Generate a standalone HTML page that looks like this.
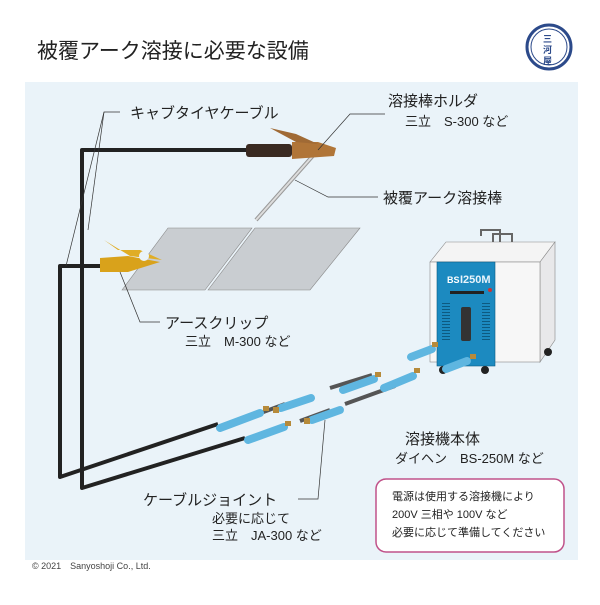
<!DOCTYPE html>
<html><head><meta charset="utf-8"><style>
body{margin:0;width:600px;height:600px;background:#fff;overflow:hidden;font-family:"Liberation Sans","Noto Sans CJK JP",sans-serif;}
</style></head><body>
<svg width="600" height="600" viewBox="0 0 600 600" xmlns="http://www.w3.org/2000/svg" font-family="Liberation Sans, Noto Sans CJK JP, sans-serif">
<rect x="25" y="82" width="553" height="478" fill="#eaf3f9"/>
<text x="37" y="58" font-size="21" fill="#222">被覆アーク溶接に必要な設備</text>
<circle cx="549" cy="47" r="22" fill="none" stroke="#2c4a8a" stroke-width="3"/>
<circle cx="549" cy="47" r="18" fill="none" stroke="#2c4a8a" stroke-width="1"/>
<text x="543" y="42" font-size="9" font-weight="bold" fill="#2c4a8a">三</text>
<text x="543" y="53" font-size="9" font-weight="bold" fill="#2c4a8a">河</text>
<text x="543" y="64" font-size="9" font-weight="bold" fill="#2c4a8a">屋</text>
<!-- plates -->
<polygon points="122,290 168,228 252,228 205,290" fill="#c9cdd1" stroke="#888" stroke-width="0.6"/>
<polygon points="208,290 255,228 360,228 310,290" fill="#c9cdd1" stroke="#888" stroke-width="0.6"/>
<!-- rod -->
<line x1="318" y1="150" x2="256" y2="220" stroke="#999" stroke-width="4"/>
<line x1="318" y1="150" x2="256" y2="220" stroke="#ddd" stroke-width="2"/>
<!-- cables -->
<path d="M250,150 L82,150 L82,488 L245,438" fill="none" stroke="#222" stroke-width="4" stroke-linejoin="round"/>
<path d="M100,266 L60,266 L60,477 L218,424" fill="none" stroke="#222" stroke-width="4" stroke-linejoin="round"/>
<!-- holder -->
<rect x="246" y="144" width="46" height="13" rx="3" fill="#3a2a22"/>
<path d="M292,142 L318,142 L336,148 L334,156 L292,159 Z" fill="#b07538"/>
<path d="M270,128 L296,134 L318,144 L296,142 Z" fill="#a06a35"/>
<!-- clip -->
<path d="M100,258 L128,256 L160,262 L128,272 L100,272 Z" fill="#d9a21b"/>
<path d="M104,240 L118,250 L140,250 L162,260 L130,256 Z" fill="#e0ad25"/>
<circle cx="144" cy="256" r="5" fill="#eaf3f9"/>
<!-- machine -->
<polygon points="430,262 446,242 555,242 540,262" fill="#f4f4f4" stroke="#888" stroke-width="0.6"/>
<polygon points="540,262 555,242 555,340 540,362" fill="#e8e8ea" stroke="#888" stroke-width="0.6"/>
<rect x="430" y="262" width="110" height="100" fill="#f7f7f7" stroke="#888" stroke-width="0.6"/>
<rect x="437" y="262" width="58" height="104" fill="#1c8ac0" stroke="#0d5a80" stroke-width="0.6"/>
<text x="447" y="283" font-size="9" font-weight="bold" fill="#fff">BS</text>
<text x="460" y="283" font-size="11" font-weight="bold" fill="#e8f4fb">I250M</text>
<rect x="450" y="291" width="34" height="3" fill="#222"/>
<circle cx="490" cy="290" r="2" fill="#c33"/>
<g stroke="#0d5a80" stroke-width="1"><line x1="446" y1="303" x2="446" y2="340" stroke-dasharray="1 2" stroke-width="8"/><line x1="486" y1="303" x2="486" y2="340" stroke-dasharray="1 2" stroke-width="8"/></g>
<rect x="461" y="307" width="10" height="34" rx="2" fill="#333"/>
<path d="M481,236 L481,230 L500,230 L500,242 M493,242 L493,234 L512,234 L512,242" fill="none" stroke="#666" stroke-width="2"/>
<circle cx="443" cy="370" r="4" fill="#222"/><circle cx="485" cy="370" r="4" fill="#222"/><circle cx="548" cy="352" r="4" fill="#222"/>
<!-- connectors & joint cables -->
<line x1="258" y1="414" x2="285" y2="404" stroke="#555" stroke-width="4"/>
<line x1="330" y1="388" x2="372" y2="375" stroke="#555" stroke-width="4"/>
<line x1="300" y1="421" x2="330" y2="410" stroke="#555" stroke-width="4"/>
<line x1="345" y1="404" x2="395" y2="386" stroke="#555" stroke-width="4"/>
<g stroke="#5fb6e0" stroke-width="8" stroke-linecap="round">
<line x1="220" y1="428" x2="260" y2="413"/>
<line x1="248" y1="440" x2="284" y2="427"/>
<line x1="281" y1="408" x2="311" y2="398"/>
<line x1="312" y1="420" x2="340" y2="410"/>
<line x1="343" y1="390" x2="374" y2="379"/>
<line x1="384" y1="388" x2="413" y2="376"/>
<line x1="411" y1="357" x2="432" y2="349"/>
<line x1="446" y1="369" x2="467" y2="361"/>
</g>
<g fill="#b68a3a"><rect x="263" y="406" width="6" height="5"/><rect x="273" y="407" width="6" height="6"/><rect x="285" y="421" width="6" height="5"/><rect x="304" y="418" width="6" height="6"/><rect x="375" y="372" width="6" height="5"/><rect x="414" y="368" width="6" height="5"/><rect x="432" y="342" width="6" height="5"/><rect x="470" y="354" width="6" height="5"/></g>
<!-- leaders -->
<g fill="none" stroke="#333" stroke-width="0.7">
<path d="M120,112 L104,112 L66,266"/><path d="M104,112 L88,230"/>
<path d="M385,114 L350,114 L318,150"/>
<path d="M378,197 L328,197 L295,180"/>
<path d="M160,322 L140,322 L120,272"/>
<path d="M298,499 L318,499 L325,420"/>
</g>
<g fill="#222" font-size="15">
<text x="130" y="118">キャブタイヤケーブル</text>
<text x="388" y="106">溶接棒ホルダ</text>
<text x="383" y="203">被覆アーク溶接棒</text>
<text x="165" y="328">アースクリップ</text>
<text x="405" y="444">溶接機本体</text>
<text x="143" y="505">ケーブルジョイント</text>
</g>
<g fill="#222" font-size="13">
<text x="405" y="126">三立　S-300 など</text>
<text x="185" y="346">三立　M-300 など</text>
<text x="395" y="463">ダイヘン　BS-250M など</text>
<text x="212" y="523">必要に応じて</text>
<text x="212" y="540">三立　JA-300 など</text>
</g>
<rect x="376" y="479" width="188" height="73" rx="10" fill="#fff" stroke="#c0528a" stroke-width="1.5"/>
<g fill="#222" font-size="11">
<text x="392" y="500">電源は使用する溶接機により</text>
<text x="392" y="518">200V 三相や 100V など</text>
<text x="392" y="536">必要に応じて準備してください</text>
</g>
<text x="32" y="569" font-size="9" fill="#444">© 2021　Sanyoshoji Co., Ltd.</text>
</svg>
</body></html>
